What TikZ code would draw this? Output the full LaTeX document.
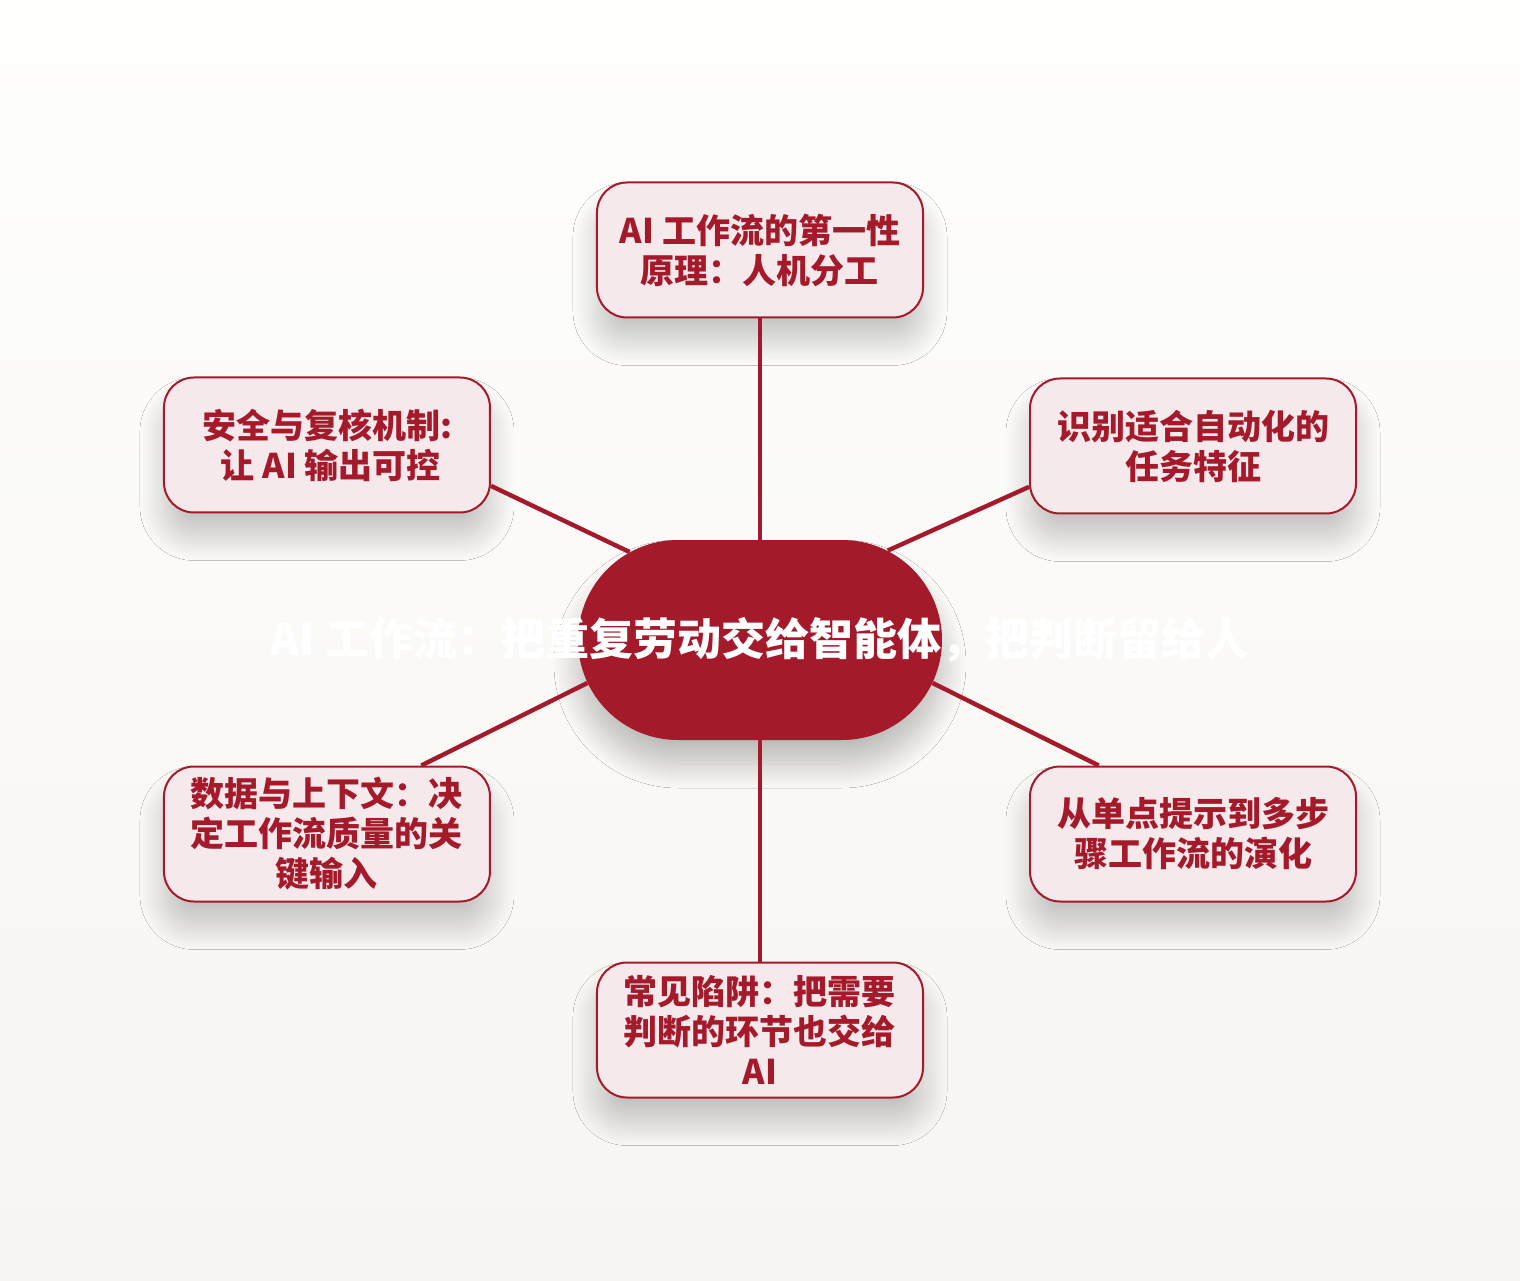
\documentclass[tikz,border=0pt]{standalone}
\usepackage{fontspec}
\setmainfont{Noto Sans CJK SC}
\usepackage{tikz}
\usetikzlibrary{shapes.misc, shadows.blur, positioning}
\definecolor{mindred}{HTML}{A51A2B}
\definecolor{mindpink}{HTML}{F5E9EC}
\definecolor{bgtop}{HTML}{FEFEFD}
\definecolor{bgbottom}{HTML}{F7F5F1}

\begin{document}
\begin{tikzpicture}[x=0.5pt, y=0.5pt,
    topic/.style={draw=mindred, line width=1pt, fill=mindpink,
        rounded corners=15pt, minimum width=163pt, minimum height=67.5pt,
        inner sep=0pt, align=center, text=mindred,
        font=\fontsize{17}{20}\selectfont\bfseries,
        blur shadow={shadow xshift=0pt, shadow yshift=-12pt,
            shadow blur radius=12pt, shadow blur steps=25, shadow opacity=22}},
    pill/.style={rounded rectangle, fill=mindred, minimum width=182pt,
        minimum height=100pt, inner sep=0pt,
        blur shadow={shadow xshift=0pt, shadow yshift=-12pt,
            shadow blur radius=12pt, shadow blur steps=25, shadow opacity=25}},
    headline/.style={text=white, font=\fontsize{22}{25}\selectfont\bfseries},
    link/.style={draw=mindred, line width=2.2pt}]

            % Nền
            \shade[top color=bgtop, bottom color=bgbottom] (-760,-640) rectangle (760,640);
            \useasboundingbox (-760,-640) rectangle (760,640);

            % Các nhánh
            \node[topic] (first) at (0,390) {AI 工作流的第一性\\原理：人机分工};
            \node[topic] (safety) at (-433,195) {安全与复核机制:\\\ 让 AI 输出可控};
            \node[topic] (traits) at (433,194) {识别适合自动化的\\任务特征};
            \node[topic] (data) at (-433,-194) {数据与上下文：决\\定工作流质量的关\\键输入};
            \node[topic] (steps) at (433,-194) {从单点提示到多步\\骤工作流的演化};
            \node[topic] (traps) at (0,-390) {常见陷阱：把需要\\判断的环节也交给\\AI};

            % Nút trung tâm
            \node[pill] (core) at (0,0) {};
            \node[headline] (title) at (core) {AI 工作流：把重复劳动交给智能体，把判断留给人};

            % Đường nối
            \draw[link] (core.north) -- (first.south);
            \draw[link] (core.146) -- (safety.-14);
            \draw[link] (core.35) -- (traits.-166);
            \draw[link] (core.194) -- (data.36);
            \draw[link] (core.-14) -- (steps.144);
            \draw[link] (core.south) -- (traps.north);

            \end{tikzpicture}
\end{document}
